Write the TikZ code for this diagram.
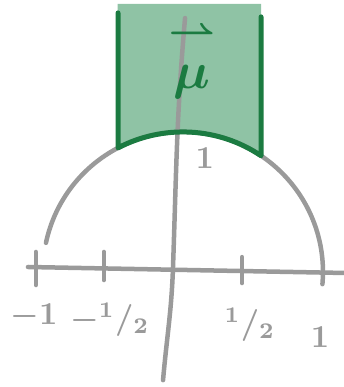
\documentclass[tikz,border=0pt]{standalone}
\usepackage{amsmath,amssymb}
\usepackage{tikz}
\definecolor{pencil}{HTML}{9A9A9A}
\definecolor{domgreen}{HTML}{1B7B41}
\definecolor{domfill}{HTML}{8FC3A5}
\newcommand{\hw}[1]{\scalebox{3.2}{\boldmath#1}}

\begin{document}
\begin{tikzpicture}[x=142pt,y=142pt,line cap=round,line join=round]
\useasboundingbox (-1.218,-0.838) rectangle (1.204,1.887);
\coordinate (ctr) at (0.07,-0.028);
\fill[domfill] (-0.39,1.86) -- ([shift={(ctr)}]117.6:0.986) arc[start angle=117.6,end angle=56.1,radius=0.986] -- (0.62,1.86) -- cycle;
\draw[pencil,line width=4.5pt] (-1.021,0.007) -- (1.204,-0.035);
\draw[pencil,line width=4.5pt] (0.085,1.76) to[out=-95,in=88] (0,0) to[out=-92,in=85] (-0.07,-0.79);
\draw[pencil,line width=4.5pt] ([shift={(ctr)}]-5:0.986) arc[start angle=-5,end angle=168,radius=0.986];
\draw[pencil,line width=4.5pt] (-0.965,0.113) -- (-0.965,-0.12);
\draw[pencil,line width=4.5pt] (-0.486,0.113) -- (-0.486,-0.085);
\draw[pencil,line width=4.5pt] (0.486,0.077) -- (0.486,-0.106);
\draw[domgreen,line width=5pt] (-0.387,1.796) -- ([shift={(ctr)}]117.6:0.986) arc[start angle=117.6,end angle=56.1,radius=0.986] -- (0.62,1.768);
\node[text=domgreen] (dom) at (0.134,1.46) {\scalebox{5.2}{\boldmath$\overset{\rightharpoonup}{\mu\vphantom{l}}$}};
\node[text=pencil] (top1) at (0.225,0.775) {\hw{$1$}};
\node[text=pencil] (mone) at (-0.979,-0.338) {\hw{$-1$}};
\node[text=pencil] (mhalf) at (-0.444,-0.366) {\hw{$-{}^1/_2$}};
\node[text=pencil] (half) at (0.542,-0.401) {\hw{${}^1/_2$}};
\node[text=pencil] (one) at (1.035,-0.486) {\hw{$1$}};
\end{tikzpicture}
\end{document}
